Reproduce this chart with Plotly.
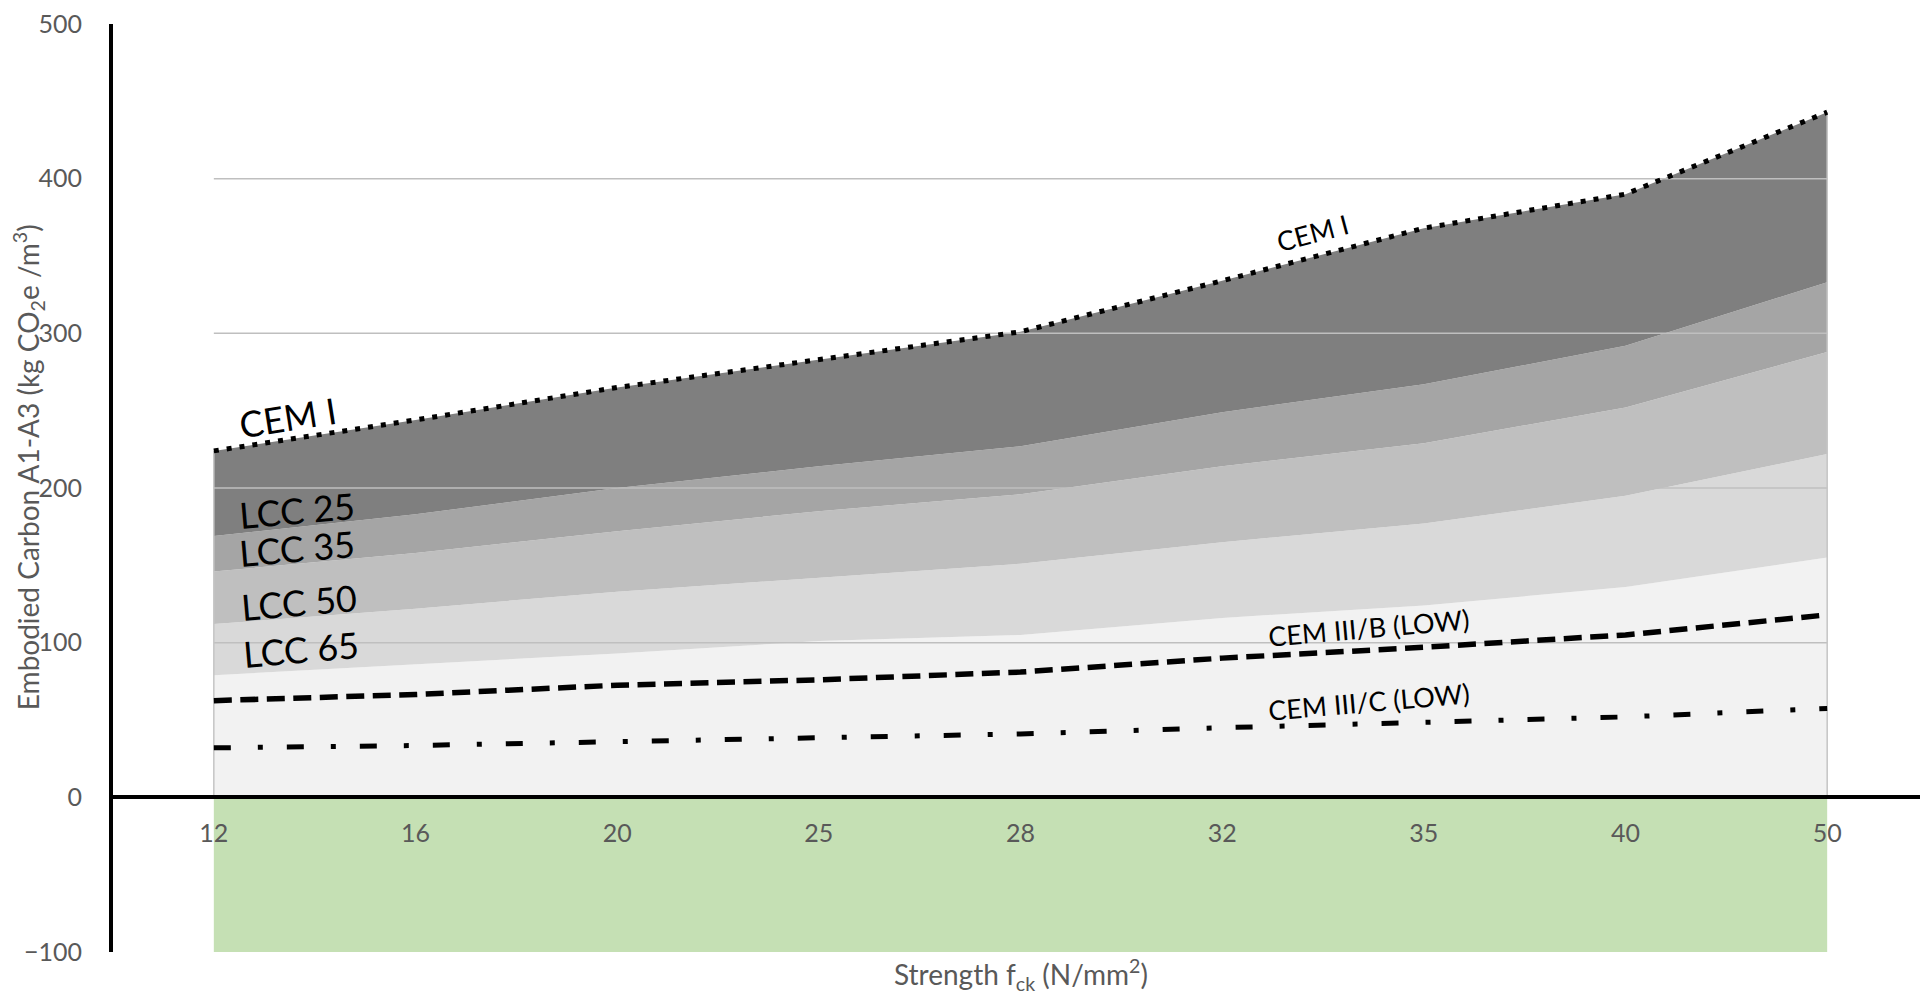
import plotly.graph_objects as go

# ---------------- data ----------------
strength = ["12", "16", "20", "25", "28", "32", "35", "40", "50"]
cem_i = [224, 244, 265, 283, 301, 334, 368, 390, 443]
lcc_25 = [169, 183, 200, 214, 227, 249, 267, 292, 333]
lcc_35 = [146, 158, 172, 185, 196, 214, 229, 252, 288]
lcc_50 = [112, 122, 133, 142, 151, 165, 177, 195, 222]
lcc_65 = [79, 86, 93, 101, 105, 116, 124, 136, 155]
cem_iii_b = [62.5, 66.5, 72.5, 76, 81, 90, 97, 105, 118]
cem_iii_c = [32, 33.5, 36, 38.5, 41, 45, 48.5, 52, 57.5]
negative_band = [-100, -100, -100, -100, -100, -100, -100, -100, -100]
y_ticks = [-100, 0, 100, 200, 300, 400, 500]
grid_values = [100, 200, 300, 400]

FONT = "Lato"
TICK_COLOR = "#595959"

fig = go.Figure()

# green band below zero
fig.add_trace(go.Scatter(x=strength, y=negative_band, mode="lines", fill="tozeroy",
                         fillcolor="#c5e0b4", line=dict(width=0), hoverinfo="skip"))

# stacked grey bands
bands = [
    (lcc_65, "#f2f2f2", "tozeroy"),
    (lcc_50, "#d9d9d9", "tonexty"),
    (lcc_35, "#bfbfbf", "tonexty"),
    (lcc_25, "#a5a5a5", "tonexty"),
    (cem_i, "#7f7f7f", "tonexty"),
]
for vals, col, fl in bands:
    fig.add_trace(go.Scatter(x=strength, y=vals, mode="lines", fill=fl, fillcolor=col,
                             line=dict(width=0, color=col), hoverinfo="skip"))

# gridlines (only across the data extent)
for g in grid_values:
    fig.add_trace(go.Scatter(x=[strength[0], strength[-1]], y=[g, g], mode="lines",
                             line=dict(color="#bfbfbf", width=1.5), hoverinfo="skip"))
# edge lines of the area
for i in (0, -1):
    fig.add_trace(go.Scatter(x=[strength[i], strength[i]], y=[0, cem_i[i]], mode="lines",
                             line=dict(color="#c4c4c4", width=1.5), hoverinfo="skip"))

# lines
fig.add_trace(go.Scatter(x=strength, y=cem_i, mode="lines",
                         line=dict(color="black", width=5, dash="5px,8px")))
fig.add_trace(go.Scatter(x=strength, y=cem_iii_b, mode="lines",
                         line=dict(color="black", width=5.5, dash="18px,8.5px")))
fig.add_trace(go.Scatter(x=strength, y=cem_iii_c, mode="lines",
                         line=dict(color="black", width=5, dash="17px,27px,5px,24px")))

# ---------------- labels ----------------
big = dict(family=FONT, size=36, color="#000000")
small = dict(family=FONT, size=27, color="#000000")
labels = [
    ("CEM I", 0.37, 246, -9, big),
    ("LCC 25", 0.41, 186, -5, big),
    ("LCC 35", 0.41, 161, -5, big),
    ("LCC 50", 0.42, 126, -5, big),
    ("LCC 65", 0.43, 96, -5, big),
    ("CEM I", 5.45, 365, -15, small),
    ("CEM III/B (LOW)", 5.73, 110, -5, small),
    ("CEM III/C (LOW)", 5.73, 62, -5, small),
]
for txt, x, y, ang, f in labels:
    fig.add_annotation(x=x, y=y, xref="x", yref="y", text=txt, showarrow=False,
                       textangle=ang, font=f)

fig.add_annotation(x=-0.0468, y=0.5225, xref="paper", yref="paper",
                   xanchor="center", yanchor="middle",
                   text="Embodied Carbon A1-A3 (kg CO<sub>2</sub>e /m<sup>3</sup>)",
                   textangle=-90, showarrow=False,
                   font=dict(family=FONT, size=28, color=TICK_COLOR))
fig.add_annotation(x=0.5, y=-0.024, xref="paper", yref="paper",
                   xanchor="center", yanchor="middle",
                   text="Strength f<sub>ck</sub> (N/mm<sup>2</sup>)",
                   showarrow=False,
                   font=dict(family=FONT, size=28, color=TICK_COLOR))

fig.update_layout(
    width=1920, height=986,
    margin=dict(l=105, r=0, t=10, b=42),
    paper_bgcolor="white", plot_bgcolor="white",
    showlegend=False,
    font=dict(family=FONT, size=25, color=TICK_COLOR),
    xaxis=dict(type="category", range=[-0.5, 8.5], anchor="free", position=1 / 6,
               showline=True, linecolor="black", linewidth=4, showgrid=False,
               zeroline=False, ticks="outside", ticklen=13, tickcolor="rgba(0,0,0,0)",
               tickfont=dict(family=FONT, size=25, color=TICK_COLOR)),
    yaxis=dict(range=[-100, 500], tickvals=y_ticks, showline=True, linecolor="black",
               linewidth=4, showgrid=False, zeroline=False, ticks="outside", ticklen=22,
               tickcolor="rgba(0,0,0,0)", ticklabeloverflow="allow",
               tickfont=dict(family=FONT, size=25, color=TICK_COLOR)),
)

fig.write_html("out.html")
